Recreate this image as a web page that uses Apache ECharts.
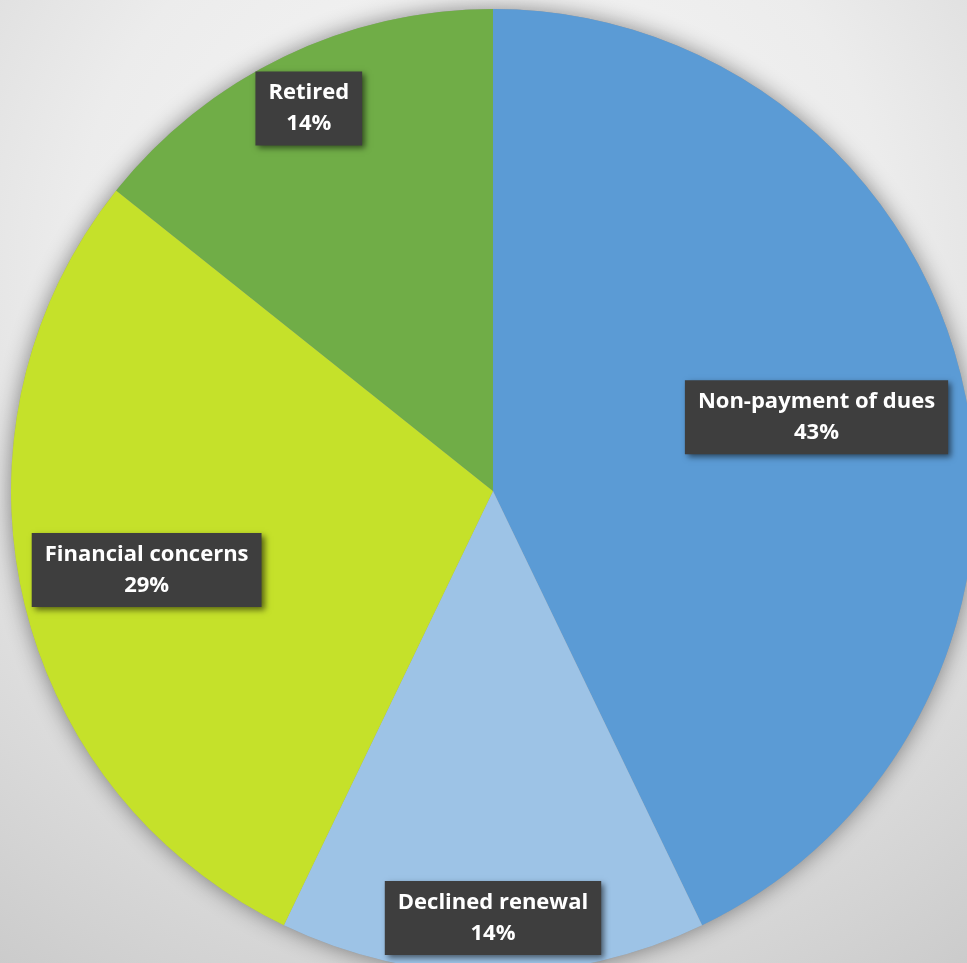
<!DOCTYPE html>
<html>
<head>
<meta charset="utf-8">
<script src="https://cdn.jsdelivr.net/npm/echarts@6/dist/echarts.min.js"></script>
<style>
html,body{margin:0;padding:0;}
#chart{width:967px;height:963px;}
</style>
</head>
<body>
<div id="chart"></div>
<script>
// Data
const categories = ['Non-payment of dues', 'Declined renewal', 'Financial concerns', 'Retired'];
const counts = [3, 1, 2, 1];
const sliceColors = ['#5B9BD5', '#9DC3E6', '#C5E12A', '#70AD47'];
// label radial placement (fraction of radius), style only
const labelRadial = [0.68, 0.875, 0.728, 0.87];

const CENTER = [493, 491];
const RADIUS = 482;

const total = counts.reduce((a, b) => a + b, 0);
const chart = echarts.init(document.getElementById('chart'));

const option = {
  animation: false,
  backgroundColor: {
    type: 'radial', x: 0.5, y: 0.28, r: 0.95,
    colorStops: [
      { offset: 0, color: '#f8f8f8' },
      { offset: 0.45, color: '#ececec' },
      { offset: 1, color: '#c6c6c6' }
    ]
  },
  series: [
    {
      type: 'pie',
      silent: true,
      center: CENTER,
      radius: RADIUS,
      label: { show: false },
      labelLine: { show: false },
      itemStyle: {
        color: '#9a9a9a',
        shadowBlur: 22,
        shadowColor: 'rgba(0,0,0,0.45)'
      },
      data: [{ value: total, name: 'shadow' }]
    },
    {
      type: 'pie',
      center: CENTER,
      radius: RADIUS,
      startAngle: 90,
      clockwise: true,
      percentPrecision: 0,
      data: categories.map((name, i) => ({
        name: name,
        value: counts[i],
        itemStyle: { color: sliceColors[i] }
      })),
      label: {
        show: true,
        position: 'inside',
        rotate: 0,
        formatter: '{b}\n{d}%',
        color: '#ffffff',
        fontFamily: 'Open Sans',
        fontWeight: 'bold',
        fontSize: 22,
        lineHeight: 31,
        align: 'center',
        backgroundColor: '#3e3e3e',
        padding: [6, 13, 6, 13],
        shadowColor: 'rgba(0,0,0,0.55)',
        shadowBlur: 6,
        shadowOffsetX: 3,
        shadowOffsetY: 3
      },
      labelLine: { show: false },
      labelLayout: function (params) {
        const r = params.labelRect;
        const lx = r.x + r.width / 2;
        const ly = r.y + r.height / 2;
        const f = labelRadial[params.dataIndex] / 0.5;
        return {
          x: CENTER[0] + (lx - CENTER[0]) * f,
          y: CENTER[1] + (ly - CENTER[1]) * f,
          align: 'center',
          verticalAlign: 'middle'
        };
      }
    }
  ]
};
chart.setOption(option);
</script>
</body>
</html>
